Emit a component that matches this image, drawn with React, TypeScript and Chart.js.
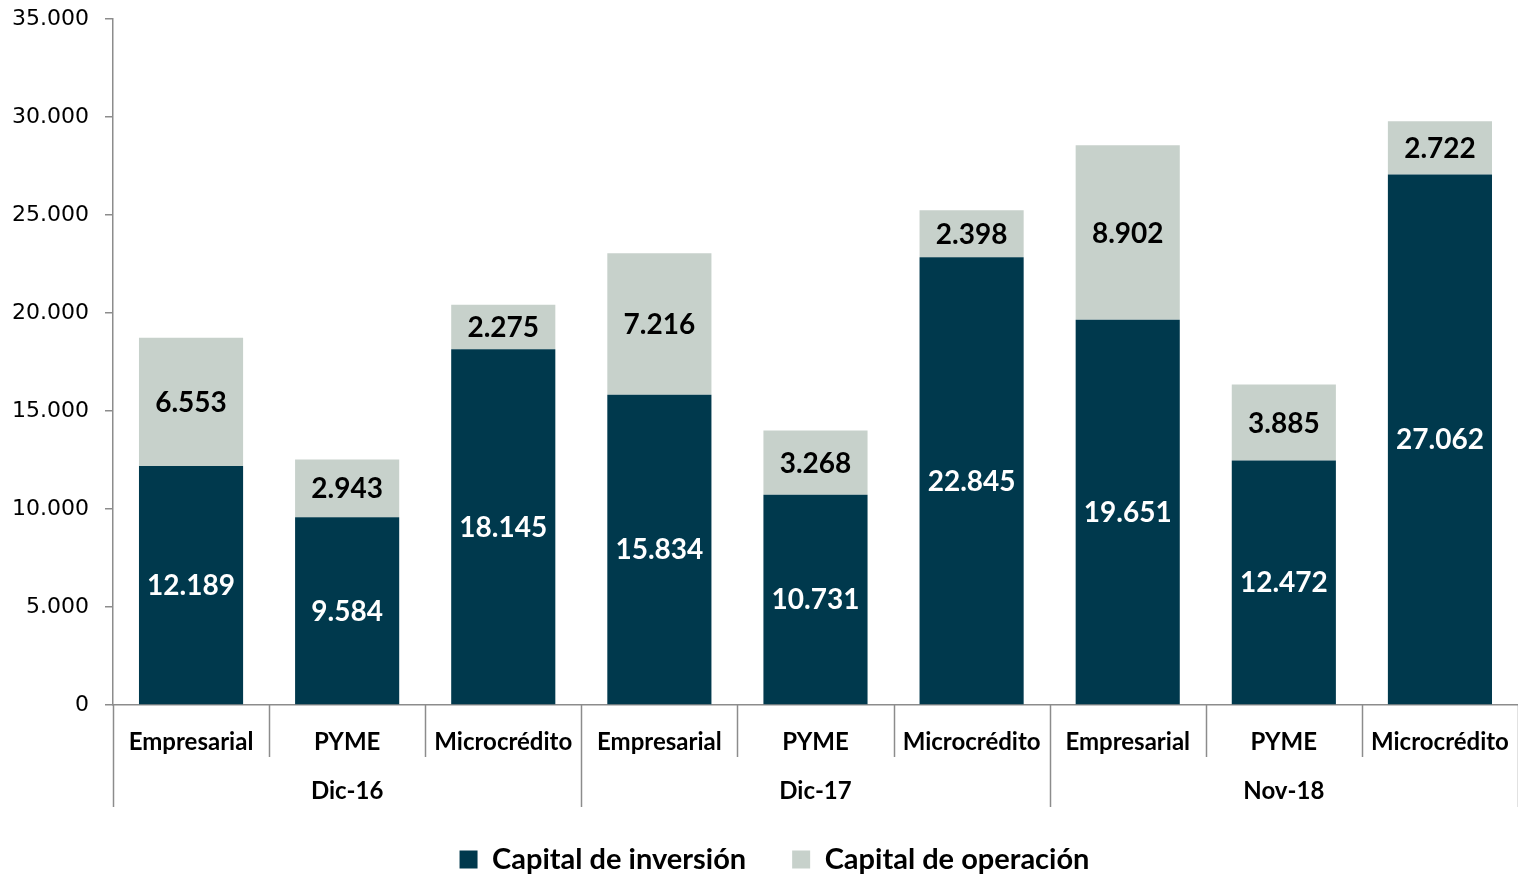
import React, { useEffect, useRef } from "react";
import { Chart, registerables } from "chart.js";

Chart.register(...registerables);

const categories = ["Empresarial", "PYME", "Microcrédito", "Empresarial", "PYME", "Microcrédito", "Empresarial", "PYME", "Microcrédito"];
const groups = ["Dic-16", "Dic-17", "Nov-18"];
const inversion = [12189, 9584, 18145, 15834, 10731, 22845, 19651, 12472, 27062];
const operacion = [6553, 2943, 2275, 7216, 3268, 2398, 8902, 3885, 2722];
const yTicks = [0, 5000, 10000, 15000, 20000, 25000, 30000, 35000];

const DARK = "#00394D";
const LIGHT = "#C7D1CB";
const AXIS = "#8C8C8C";
const LABEL_FONT = "Lato, 'Open Sans', sans-serif";

function fmt(v: number): string {
  const s = Math.round(v).toString();
  return s.replace(/\B(?=(\d{3})+(?!\d))/g, ".");
}

const overlayPlugin = {
  id: "overlay",
  afterLayout(chart: any) {
    if (chart.legend) {
      chart.legend.left += 14;
      chart.legend.right += 14;
    }
  },
  afterDatasetsDraw(chart: any) {
    const ctx = chart.ctx;
    const x = chart.scales.x;
    const y = chart.scales.y;
    const bottom = y.bottom;
    const step = x.getPixelForValue(1) - x.getPixelForValue(0);
    ctx.save();
    ctx.textAlign = "center";
    ctx.textBaseline = "middle";
    ctx.font = `bold 28px ${LABEL_FONT}`;
    chart.data.datasets.forEach((ds: any, di: number) => {
      const meta = chart.getDatasetMeta(di);
      meta.data.forEach((bar: any, i: number) => {
        const props = bar.getProps(["x", "y", "base"], true);
        const cy = (props.y + props.base) / 2;
        ctx.fillStyle = di === 0 ? "#FFFFFF" : "#000000";
        ctx.fillText(fmt(ds.data[i]), props.x, cy + 1);
      });
    });
    ctx.strokeStyle = AXIS;
    ctx.lineWidth = 1.5;
    for (let i = 0; i <= categories.length; i++) {
      const px = Math.round(x.getPixelForValue(i) - step / 2) + 0.5;
      const isGroup = i % 3 === 0;
      ctx.beginPath();
      ctx.moveTo(px, bottom);
      ctx.lineTo(px, bottom + (isGroup ? 102 : 52));
      ctx.stroke();
    }
    ctx.fillStyle = "#000000";
    ctx.font = `bold 24px ${LABEL_FONT}`;
    groups.forEach((g, gi) => {
      const cx = x.getPixelForValue(gi * 3 + 1);
      ctx.fillText(g, cx, bottom + 86);
    });
    ctx.restore();
  },
};

export default function App() {
  const ref = useRef<HTMLCanvasElement | null>(null);
  useEffect(() => {
    if (!ref.current) return;
    const chart = new Chart(ref.current, {
      type: "bar",
      data: {
        labels: categories,
        datasets: [
          {
            label: "Capital de inversión",
            data: inversion,
            backgroundColor: DARK,
            barPercentage: 0.667,
            categoryPercentage: 1,
          },
          {
            label: "Capital de operación",
            data: operacion,
            backgroundColor: LIGHT,
            barPercentage: 0.667,
            categoryPercentage: 1,
          },
        ],
      },
      options: {
        responsive: false,
        maintainAspectRatio: false,
        animation: false,
        layout: { padding: { top: 0, right: -7, left: -4, bottom: -8 } },
        plugins: {
          tooltip: { enabled: false },
          legend: {
            position: "bottom",
            labels: {
              boxWidth: 18,
              boxHeight: 18,
              padding: 46,
              color: "#000000",
              font: { family: LABEL_FONT, size: 29, weight: "bold" },
            },
          },
        },
        scales: {
          x: {
            stacked: true,
            grid: { display: false },
            border: { display: true, color: AXIS, width: 1.5 },
            ticks: {
              color: "#000000",
              padding: 15,
              maxRotation: 0,
              autoSkip: false,
              font: { family: LABEL_FONT, size: 24, weight: "bold" },
            },
            afterFit(scale: any) {
              scale.height = 94;
              scale.paddingLeft = 0;
              scale.paddingRight = -7;
            },
          },
          y: {
            stacked: true,
            min: 0,
            max: 35000,
            afterBuildTicks(scale: any) {
              scale.ticks = yTicks.map((v) => ({ value: v }));
            },
            afterFit(scale: any) {
              scale.paddingTop = 19;
            },
            grid: {
              drawOnChartArea: false,
              drawTicks: true,
              tickLength: 8,
              color: AXIS,
              lineWidth: 1.5,
            },
            border: { display: true, color: AXIS, width: 1.5 },
            ticks: {
              color: "#000000",
              padding: 16,
              font: { family: "'DejaVu Sans', sans-serif", size: 22 },
              callback: (v: any) => fmt(Number(v)),
            },
          },
        },
      },
      plugins: [overlayPlugin],
    });
    return () => chart.destroy();
  }, []);
  return (
    <div style={{ position: "fixed", left: 0, top: 0, width: 1518, height: 876, background: "#fff" }}>
      <canvas ref={ref} width={1518} height={876} style={{ width: 1518, height: 876 }} />
    </div>
  );
}
